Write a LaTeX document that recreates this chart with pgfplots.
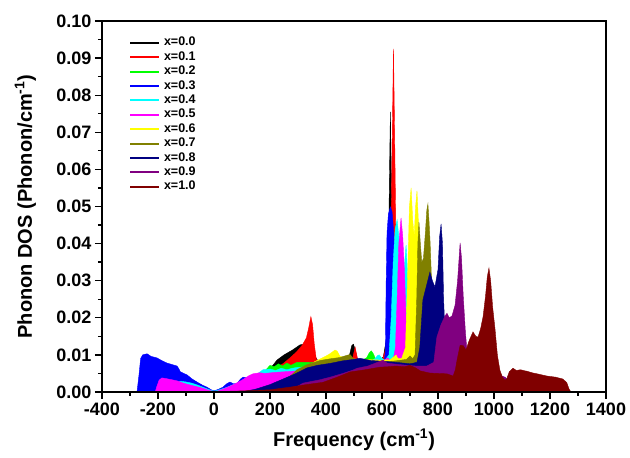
\documentclass[border=0pt]{standalone}
\usepackage{fontspec}
\setmainfont{Liberation Sans}
\usepackage{pgfplots}
\pgfplotsset{compat=1.18}
\definecolor{cRed}{RGB}{255,0,0}
\definecolor{cGreen}{RGB}{0,255,0}
\definecolor{cBlue}{RGB}{0,0,255}
\definecolor{cCyan}{RGB}{0,255,255}
\definecolor{cMag}{RGB}{255,0,255}
\definecolor{cYel}{RGB}{255,255,0}
\definecolor{cOlive}{RGB}{128,128,0}
\definecolor{cNavy}{RGB}{0,0,128}
\definecolor{cPurple}{RGB}{128,0,128}
\definecolor{cMaroon}{RGB}{128,0,0}
\begin{document}
\begin{tikzpicture}
\begin{axis}[
  scale only axis, width=504pt, height=371pt,
  xmin=-400, xmax=1400, ymin=0, ymax=0.1,
  xtick={-400,-200,0,200,400,600,800,1000,1200,1400},
  xticklabels={-400,-200,0,200,400,600,800,1000,1200,1400},
  ytick={0,0.01,0.02,0.03,0.04,0.05,0.06,0.07,0.08,0.09,0.1},
  yticklabels={0.00,0.01,0.02,0.03,0.04,0.05,0.06,0.07,0.08,0.09,0.10},
  minor x tick num=1, minor y tick num=1,
  tick align=outside, tick pos=left,
  major tick length=7pt, minor tick length=4pt,
  every tick/.style={black, line width=1.3pt},
  axis line style={line width=1.6pt},
  axis on top,
  tick label style={font=\fontsize{18}{18}\selectfont\bfseries},
  label style={font=\fontsize{20}{20}\selectfont\bfseries},
  xlabel={Frequency (cm\textsuperscript{-1})},
  ylabel={Phonon DOS (Phonon/cm\textsuperscript{-1})},
  xlabel style={at={(axis description cs:0.5,-0.129)}, anchor=center},
  ylabel style={at={(axis description cs:-0.152,0.5)}, anchor=center},
  legend style={draw=none, fill=none, inner sep=0pt, outer sep=0pt,
    at={(axis description cs:0.0536,0.957)}, anchor=north west,
    font=\fontsize{12.5}{12.5}\selectfont\bfseries,
    nodes={inner sep=0pt, text height=9pt, text depth=2.5pt},
    row sep=2.9pt},
  legend cell align=left,
  /tikz/every odd column/.append style={column sep=4pt},
  legend image code/.code={\draw[#1, fill=none, line width=2pt] (0pt,0pt) -- (29pt,0pt);},
]
\addplot[draw=black, fill=black] coordinates {(0,0) (40,0.0006) (80,0.0015) (120,0.0026) (160,0.0040) (200,0.0062) (225,0.0086) (250,0.0100) (280,0.0113) (307,0.0127) (330,0.0130) (350,0.0110) (370,0.0085) (400,0.0080) (430,0.0080) (470,0.0085) (484,0.0100) (492,0.0125) (498,0.0129) (505,0.0112) (515,0.0075) (540,0.0068) (580,0.0075) (605,0.0095) (615,0.0140) (622,0.0300) (627,0.0600) (630,0.0755) (634,0.0550) (640,0.0300) (648,0.0150) (660,0.0060) (670,0)} \closedcycle;
\addlegendentry{x=0.0}
\addplot[draw=cRed, fill=cRed] coordinates {(0,0) (40,0.0006) (80,0.0014) (120,0.0024) (160,0.0037) (200,0.0056) (230,0.0068) (246,0.0076) (270,0.0091) (295,0.0108) (315,0.0126) (330,0.0146) (338,0.0172) (346,0.0203) (352,0.0182) (358,0.0130) (365,0.0090) (372,0.0075) (400,0.0070) (440,0.0068) (480,0.0075) (495,0.0090) (504,0.0121) (512,0.0092) (525,0.0070) (560,0.0070) (600,0.0085) (620,0.0130) (630,0.0280) (636,0.0650) (641,0.0925) (645,0.0700) (650,0.0400) (656,0.0200) (664,0.0080) (675,0)} \closedcycle;
\addlegendentry{x=0.1}
\addplot[draw=cGreen, fill=cGreen] coordinates {(0,0) (50,0.0007) (100,0.0016) (150,0.0032) (180,0.0055) (200,0.0072) (215,0.0068) (230,0.0076) (245,0.0070) (260,0.0078) (275,0.0072) (296,0.0080) (330,0.0080) (380,0.0078) (430,0.0076) (480,0.0080) (520,0.0082) (545,0.0092) (555,0.0106) (562,0.0111) (570,0.0102) (580,0.0082) (600,0.0082) (612,0.0088) (625,0.0200) (635,0.0300) (645,0.0250) (655,0.0100) (665,0)} \closedcycle;
\addlegendentry{x=0.2}
\addplot[draw=cBlue, fill=cBlue] coordinates {(-275,0) (-268,0.0045) (-262,0.0090) (-255,0.0100) (-239,0.0103) (-225,0.0096) (-204,0.0092) (-185,0.0084) (-168,0.0078) (-150,0.0074) (-132,0.0070) (-125,0.0062) (-121,0.0055) (-108,0.0050) (-96,0.0046) (-80,0.0036) (-61,0.0027) (-40,0.0018) (-25,0.0013) (-10,0.0006) (0,0.0003) (15,0.0007) (32,0.0013) (45,0.0022) (57,0.0027) (70,0.0022) (82,0.0023) (95,0.0035) (104,0.0040) (120,0.0038) (140,0.0043) (154,0.0046) (180,0.0050) (220,0.0055) (260,0.0060) (300,0.0062) (350,0.0065) (400,0.0066) (450,0.0068) (500,0.0070) (550,0.0072) (590,0.0076) (608,0.0082) (612,0.0110) (615,0.0300) (618,0.0430) (623,0.0480) (630,0.0499) (636,0.0485) (642,0.0430) (648,0.0350) (655,0.0230) (663,0.0120) (672,0.0050) (680,0)} \closedcycle;
\addlegendentry{x=0.3}
\addplot[draw=cCyan, fill=cCyan] coordinates {(-140,0) (-132,0.0024) (-120,0.0029) (-100,0.0027) (-80,0.0024) (-60,0.0019) (-40,0.0013) (-20,0.0007) (0,0.0002) (15,0.0005) (40,0.0011) (80,0.0023) (120,0.0036) (150,0.0046) (175,0.0060) (200,0.0062) (220,0.0058) (240,0.0064) (260,0.0060) (280,0.0064) (296,0.0066) (330,0.0068) (380,0.0070) (430,0.0072) (480,0.0075) (530,0.0080) (560,0.0082) (575,0.0090) (584,0.0098) (590,0.0100) (598,0.0092) (610,0.0085) (625,0.0100) (633,0.0200) (640,0.0350) (647,0.0440) (654,0.0464) (660,0.0420) (666,0.0320) (672,0.0280) (679,0.0330) (686,0.0396) (692,0.0310) (700,0.0150) (710,0.0060) (720,0)} \closedcycle;
\addlegendentry{x=0.4}
\addplot[draw=cMag, fill=cMag] coordinates {(-210,0) (-204,0.0015) (-196,0.0032) (-186,0.0038) (-170,0.0036) (-150,0.0033) (-132,0.0030) (-110,0.0024) (-86,0.0019) (-60,0.0014) (-39,0.0010) (-20,0.0005) (0,0.0001) (15,0.0003) (40,0.0010) (70,0.0020) (100,0.0032) (125,0.0044) (139,0.0049) (164,0.0052) (180,0.0050) (220,0.0053) (260,0.0055) (300,0.0057) (360,0.0062) (410,0.0068) (460,0.0073) (510,0.0078) (560,0.0080) (600,0.0082) (612,0.0088) (621,0.0092) (628,0.0085) (640,0.0088) (648,0.0120) (654,0.0250) (660,0.0400) (668,0.0469) (674,0.0420) (680,0.0330) (686,0.0200) (694,0.0100) (705,0.0040) (715,0)} \closedcycle;
\addlegendentry{x=0.5}
\addplot[draw=cYel, fill=cYel] coordinates {(100,0) (150,0.0004) (189,0.0011) (230,0.0021) (270,0.0036) (300,0.0051) (330,0.0066) (360,0.0082) (390,0.0093) (410,0.0101) (425,0.0109) (432,0.0113) (440,0.0110) (450,0.0096) (480,0.0090) (520,0.0088) (560,0.0087) (600,0.0086) (630,0.0087) (644,0.0096) (650,0.0100) (657,0.0090) (670,0.0090) (684,0.0120) (691,0.0300) (698,0.0500) (704,0.0550) (710,0.0460) (715,0.0420) (720,0.0500) (725,0.0542) (730,0.0460) (736,0.0320) (742,0.0160) (750,0.0060) (760,0)} \closedcycle;
\addlegendentry{x=0.6}
\addplot[draw=cOlive, fill=cOlive] coordinates {(150,0) (200,0.0008) (250,0.0026) (296,0.0060) (330,0.0073) (379,0.0085) (420,0.0090) (450,0.0093) (475,0.0099) (486,0.0101) (495,0.0092) (520,0.0081) (560,0.0080) (600,0.0081) (650,0.0084) (688,0.0088) (700,0.0097) (710,0.0090) (718,0.0100) (724,0.0250) (728,0.0400) (732,0.0458) (737,0.0400) (742,0.0350) (748,0.0360) (755,0.0430) (760,0.0490) (764,0.0507) (768,0.0460) (772,0.0400) (777,0.0300) (782,0.0150) (790,0.0060) (800,0)} \closedcycle;
\addlegendentry{x=0.7}
\addplot[draw=cNavy, fill=cNavy] coordinates {(100,0) (150,0.0008) (200,0.0020) (250,0.0036) (290,0.0049) (332,0.0065) (370,0.0072) (414,0.0077) (460,0.0084) (500,0.0088) (521,0.0091) (560,0.0085) (600,0.0083) (650,0.0080) (700,0.0076) (725,0.0080) (735,0.0120) (746,0.0248) (760,0.0290) (771,0.0323) (780,0.0300) (789,0.0283) (800,0.0330) (806,0.0420) (811,0.0453) (816,0.0400) (820,0.0250) (825,0.0160) (832,0.0080) (840,0.0040) (850,0)} \closedcycle;
\addlegendentry{x=0.8}
\addplot[draw=cPurple, fill=cPurple] coordinates {(200,0) (250,0.0007) (300,0.0016) (318,0.0024) (379,0.0033) (420,0.0041) (460,0.0050) (496,0.0059) (511,0.0064) (550,0.0070) (604,0.0086) (618,0.0078) (650,0.0075) (689,0.0072) (720,0.0070) (760,0.0070) (785,0.0080) (796,0.0148) (810,0.0180) (825,0.0205) (832,0.0212) (840,0.0200) (850,0.0205) (861,0.0234) (870,0.0300) (879,0.0402) (884,0.0360) (890,0.0260) (898,0.0160) (906,0.0090) (920,0.0072) (960,0.0062) (1000,0.0052) (1039,0.0040) (1050,0.0032) (1060,0)} \closedcycle;
\addlegendentry{x=0.9}
\addplot[draw=cMaroon, fill=cMaroon] coordinates {(-35,0) (0,0.0001) (100,0.0003) (200,0.0006) (271,0.0013) (330,0.0020) (389,0.0026) (440,0.0040) (486,0.0054) (540,0.0060) (593,0.0067) (620,0.0068) (650,0.0070) (680,0.0068) (700,0.0072) (720,0.0065) (736,0.0057) (771,0.0051) (800,0.0050) (832,0.0049) (854,0.0043) (862,0.0060) (868,0.0086) (879,0.0126) (890,0.0125) (900,0.0113) (912,0.0140) (925,0.0162) (935,0.0150) (943,0.0148) (952,0.0170) (961,0.0203) (970,0.0260) (976,0.0310) (982,0.0334) (988,0.0300) (995,0.0230) (1004,0.0167) (1012,0.0100) (1021,0.0059) (1030,0.0040) (1039,0.0032) (1045,0.0035) (1055,0.0055) (1068,0.0064) (1080,0.0058) (1095,0.0060) (1110,0.0057) (1118,0.0056) (1135,0.0052) (1160,0.0048) (1189,0.0043) (1220,0.0040) (1246,0.0035) (1260,0.0025) (1268,0.0008) (1275,0)} \closedcycle;
\addlegendentry{x=1.0}
\coordinate (sw) at (rel axis cs:0,0);
\end{axis}
\pgfresetboundingbox
\path (sw) ++(-102pt,-66pt) rectangle ++(630pt,458pt);
\end{tikzpicture}
\end{document}
